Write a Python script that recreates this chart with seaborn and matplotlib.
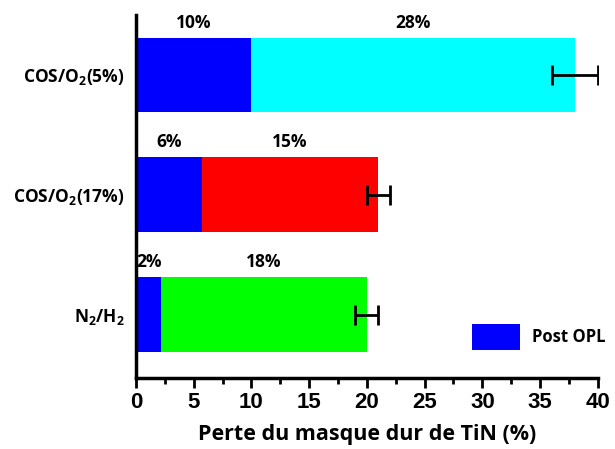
import pandas as pd
import seaborn as sns
import matplotlib.pyplot as plt
from matplotlib.patches import Patch

# Data
categories = ['COS/O$_{\\mathbf{2}}$(5%)', 'COS/O$_{\\mathbf{2}}$(17%)', 'N$_{\\mathbf{2}}$/H$_{\\mathbf{2}}$']
post_opl = [10.0, 5.7, 2.2]
total_loss = [38.0, 21.0, 20.0]
total_err = [2.0, 1.0, 1.0]
bar_colors = ['#00FFFF', '#FF0000', '#00FF00']
blue = '#0000FF'


def main():
    sns.set_theme(style="white")
    plt.rcParams['font.family'] = ['Open Sans', 'DejaVu Sans']
    plt.rcParams.update({
        'font.weight': 'bold',
        'text.color': 'black',
        'axes.labelcolor': 'black',
        'xtick.color': 'black',
        'ytick.color': 'black',
        'mathtext.fontset': 'custom',
        'mathtext.rm': 'Open Sans:bold',
        'mathtext.bf': 'Open Sans:bold',
    })

    df = pd.DataFrame({'cat': categories, 'post': post_opl, 'total': total_loss, 'err': total_err})

    fig = plt.figure(figsize=(6.15, 4.49), dpi=100)
    ax = fig.add_axes([0.221, 0.158, 0.751, 0.809])

    # full bars (second step) then post OPL part on top
    sns.barplot(data=df, x='total', y='cat', hue='cat', palette=bar_colors, orient='h',
                width=0.62, ax=ax, legend=False, saturation=1, linewidth=0)
    sns.barplot(data=df, x='post', y='cat', color=blue, orient='h',
                width=0.62, ax=ax, saturation=1, linewidth=0)

    ax.errorbar(df['total'], range(len(df)), xerr=df['err'], fmt='none', ecolor='black',
                elinewidth=2, capsize=7, capthick=2)

    # percentage labels above each segment
    for i, row in df.iterrows():
        second = row['total'] - row['post']
        ax.text(row['post'] / 2, i - 0.36, f"{round(row['post'])}%", ha='center', va='bottom',
                fontsize=12.5, fontweight='bold')
        ax.text(row['post'] + second / 2, i - 0.36, f"{round(second)}%", ha='center', va='bottom',
                fontsize=12.5, fontweight='bold')

    ax.set_xlim(0, 40)
    ax.set_ylim(2.53, -0.5)
    ax.set_xticks(range(0, 41, 5))
    ax.set_xticks([x * 2.5 for x in range(17)], minor=True)
    ax.set_ylabel('')
    ax.set_xlabel('Perte du masque dur de TiN (%)', fontsize=15.5, fontweight='bold', labelpad=8)

    for lab in ax.get_xticklabels():
        lab.set_family(['Liberation Sans Narrow', 'Liberation Sans', 'DejaVu Sans'])
        lab.set_fontsize(16)
        lab.set_fontweight('bold')
    for lab in ax.get_yticklabels():
        lab.set_fontsize(12.5)
        lab.set_fontweight('bold')

    ax.spines['top'].set_visible(False)
    ax.spines['right'].set_visible(False)
    for side in ['left', 'bottom']:
        ax.spines[side].set_linewidth(2.5)
        ax.spines[side].set_color('black')
    ax.tick_params(axis='x', which='major', direction='out', length=7, width=2, color='black', bottom=True, pad=3)
    ax.tick_params(axis='x', which='minor', direction='out', length=4, width=2, color='black', bottom=True)
    ax.tick_params(axis='y', length=0, pad=8)

    handles = [Patch(facecolor=blue, edgecolor='none', label='Post OPL')]
    ax.legend(handles=handles, loc='lower right', bbox_to_anchor=(1.05, 0.035), frameon=False,
              fontsize=12, handlelength=2.9, handleheight=2.1, handletextpad=0.75)

    plt.savefig('out.png', dpi=100)


if __name__ == "__main__":
    main()
